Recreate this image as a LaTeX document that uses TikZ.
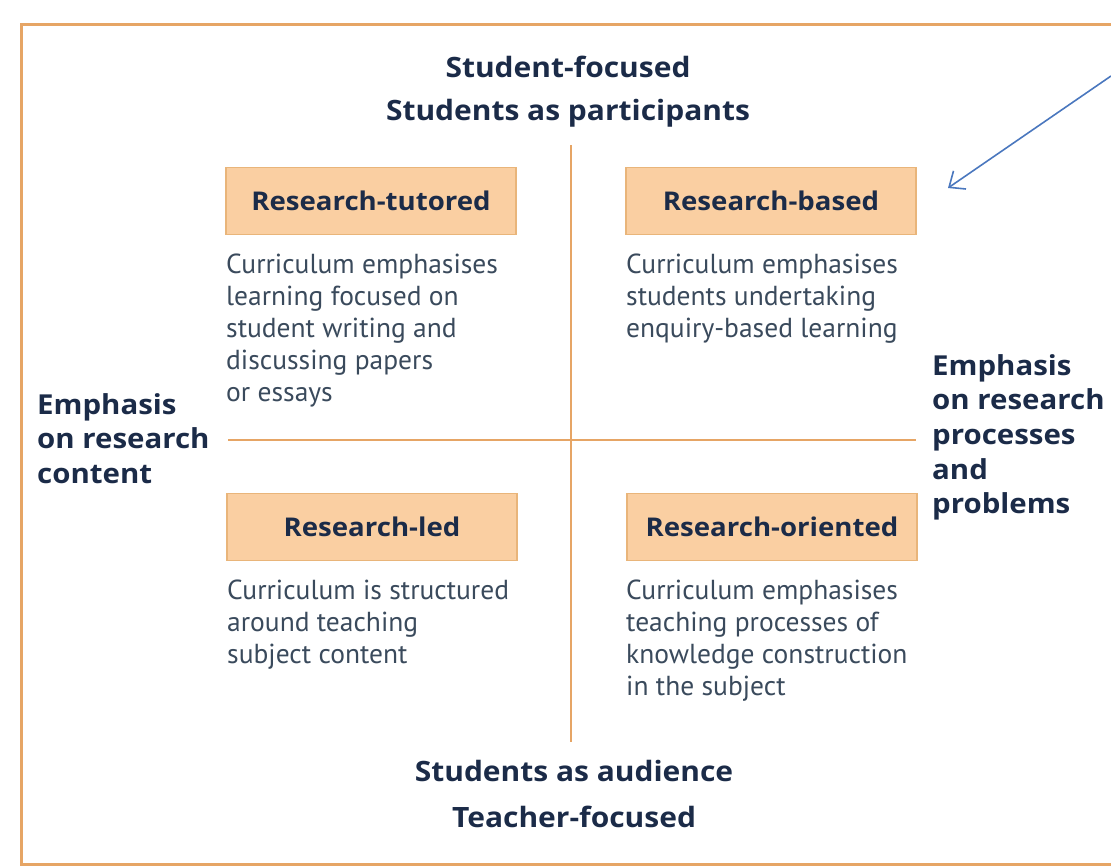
\documentclass[tikz,border=0pt]{standalone}
\usepackage{fontspec}
\setmainfont{PT Sans}
\newfontfamily\headfont[FakeStretch=1.07]{Open Sans}
\usetikzlibrary{arrows.meta}
\definecolor{frameor}{HTML}{E6A565}
\definecolor{boxfill}{HTML}{FACFA2}
\definecolor{boxdraw}{HTML}{E9B57A}
\definecolor{navy}{HTML}{1B2B48}
\definecolor{bodytxt}{HTML}{3A4A5C}
\definecolor{arrowblue}{HTML}{4A77BE}
\begin{document}
\begin{tikzpicture}[x=1pt,y=-1pt,
  heading/.style={font=\headfont\fontsize{28}{32}\selectfont\bfseries, text=navy, inner sep=0pt},
  catbox/.style={draw=boxdraw, fill=boxfill, line width=1.5pt, minimum width=290pt, minimum height=67pt, font=\headfont\fontsize{25.8}{30}\selectfont\bfseries, text=navy, inner sep=0pt},
  desc/.style={font=\fontsize{27.5}{32}\selectfont, text=bodytxt, align=left, anchor=north west, inner sep=0pt},
  sidelabel/.style={font=\headfont\fontsize{27.5}{34.7}\selectfont\bfseries, text=navy, align=left, anchor=north west, inner sep=0pt},
  axisline/.style={draw=frameor, line width=2pt},
  pointer/.style={draw=arrowblue, line width=1.6pt, -{Straight Barb[length=13pt,width=22pt,line width=1.6pt]}},
]
\useasboundingbox (0,0) rectangle (1111,865);
% frame
\draw[frameor, line width=3pt] (1111,24) -- (21,24) -- (21,864) -- (1111,864);

% axes
\coordinate (vtop) at (571,145);
\coordinate (vbot) at (571,742);
\coordinate (hl) at (228,440);
\coordinate (hr) at (916,440);
\draw[axisline] (vtop) -- (vbot);
\draw[axisline] (hl) -- (hr);

% headings
\node[heading] (sf) at (568,67) {Student-focused};
\node[heading] (sp) at (568,113) {Students as participants};
\node[heading] (sa) at (574,771) {Students as audience};
\node[heading] (tf) at (574,817) {Teacher-focused};

% side labels
\node[sidelabel] (left) at (37,393) {Emphasis\\on research\\content};
\node[sidelabel] (right) at (932,354) {Emphasis\\on research\\processes\\and\\problems};

% boxes
\node[catbox] (rt) at (371,201) {Research-tutored};
\node[catbox] (rb) at (771,201) {Research-based};
\node[catbox] (rl) at (372,527) {Research-led};
\node[catbox] (ro) at (772,527) {Research-oriented};

% descriptions
\node[desc] (drt) at (226,254) {Curriculum emphasises\\learning focused on\\student writing and\\discussing papers\\or essays};
\node[desc] (drb) at (626,254) {Curriculum emphasises\\students undertaking\\enquiry-based learning};
\node[desc] (drl) at (227,580) {Curriculum is structured\\around teaching\\subject content};
\node[desc] (dro) at (626,580) {Curriculum emphasises\\teaching processes of\\knowledge construction\\in the subject};

% pointer arrow
\coordinate (astart) at (1111,76);
\coordinate (aend) at (948,188);
\draw[pointer] (astart) -- (aend);
\end{tikzpicture}
\end{document}
